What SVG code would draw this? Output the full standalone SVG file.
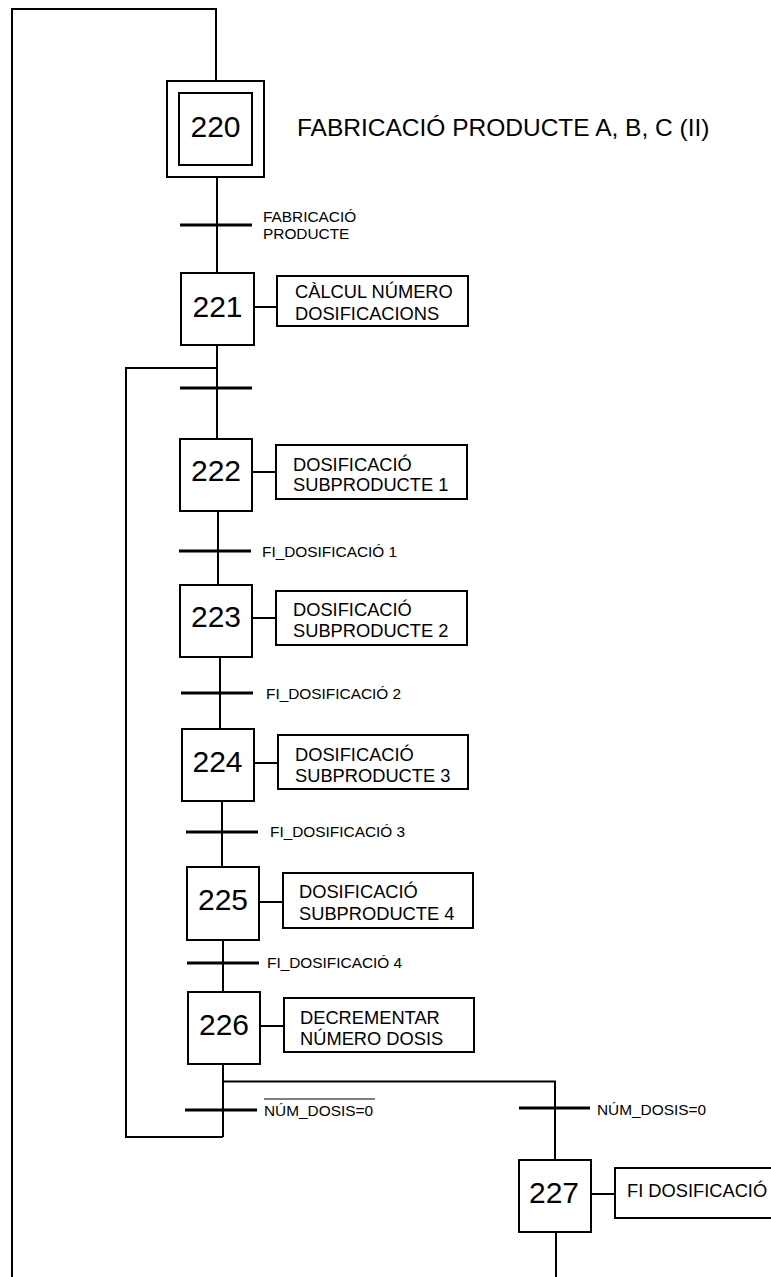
<svg xmlns="http://www.w3.org/2000/svg" width="771" height="1277" viewBox="0 0 771 1277">
<style>
.box{fill:#fff;stroke:#000;stroke-width:2}
.ln{fill:none;stroke:#000;stroke-width:2}
.tr{stroke:#000;stroke-width:3}
.num{font-family:"Liberation Sans",Arial,sans-serif;font-size:30px;text-anchor:middle;fill:#000}
.act{font-family:"Liberation Sans",Arial,sans-serif;font-size:18.3px;fill:#000}
.lbl{font-family:"Liberation Sans",Arial,sans-serif;font-size:15.4px;fill:#000}
.ttl{font-family:"Liberation Sans",Arial,sans-serif;font-size:24.5px;fill:#000}
</style>
<rect width="771" height="1277" fill="#fff"/>
<g id="connectors">
<path class="ln" d="M216,81 V9 H12 V1277"/>
<path class="ln" d="M217,177 V273"/>
<path class="ln" d="M217,345 V439"/>
<path class="ln" d="M217,368 H126 V1137 H223"/>
<path class="ln" d="M218,511 V585"/>
<path class="ln" d="M220,657 V729"/>
<path class="ln" d="M222,801 V867"/>
<path class="ln" d="M223,940 V992"/>
<path class="ln" d="M223,1064 V1137"/>
<path class="ln" d="M223,1081.5 H555 V1160"/>
<path class="ln" d="M556,1232 V1277"/>
<path class="ln" d="M254,307 H277"/>
<path class="ln" d="M252,472 H276"/>
<path class="ln" d="M252,618 H276"/>
<path class="ln" d="M254,763 H278"/>
<path class="ln" d="M259,902 H283"/>
<path class="ln" d="M260,1026 H284"/>
<path class="ln" d="M591,1194 H615"/>
<line class="tr" x1="180" y1="225" x2="252" y2="225"/>
<line class="tr" x1="180" y1="388" x2="252" y2="388"/>
<line class="tr" x1="179" y1="551" x2="251" y2="551"/>
<line class="tr" x1="181" y1="693" x2="253" y2="693"/>
<line class="tr" x1="186" y1="832" x2="258" y2="832"/>
<line class="tr" x1="187" y1="963" x2="259" y2="963"/>
<line class="tr" x1="185" y1="1110" x2="257" y2="1110"/>
<line class="tr" x1="519" y1="1108" x2="590" y2="1108"/>
<text class="lbl" x="263" y="222">FABRICACIÓ</text>
<text class="lbl" x="263" y="239">PRODUCTE</text>
<text class="lbl" x="262" y="557">FI_DOSIFICACIÓ 1</text>
<text class="lbl" x="266" y="699">FI_DOSIFICACIÓ 2</text>
<text class="lbl" x="270" y="837">FI_DOSIFICACIÓ 3</text>
<text class="lbl" x="267" y="968">FI_DOSIFICACIÓ 4</text>
<text class="lbl" x="264" y="1116">NÚM_DOSIS=0</text>
<line x1="264" y1="1099" x2="375" y2="1099" stroke="#000" stroke-width="1.2"/>
<text class="lbl" x="597" y="1115">NÚM_DOSIS=0</text>
</g>
<g id="step220">
<rect class="box" x="167" y="81" width="97" height="96"/>
<rect class="box" x="179" y="93" width="73" height="72"/>
<text class="num" x="215.5" y="137">220</text>
<text class="ttl" x="297" y="136">FABRICACIÓ PRODUCTE A, B, C (II)</text>
</g>
<g id="step221">
<rect class="box" x="181" y="273" width="73" height="72"/>
<text class="num" x="217.5" y="317">221</text>
<rect class="box" x="277" y="276" width="191" height="50"/>
<text class="act" x="295" y="298">CÀLCUL NÚMERO</text>
<text class="act" x="295" y="320">DOSIFICACIONS</text>
</g>
<g id="step222">
<rect class="box" x="180" y="439" width="72" height="72"/>
<text class="num" x="216" y="481">222</text>
<rect class="box" x="276" y="445" width="191" height="54"/>
<text class="act" x="293" y="471">DOSIFICACIÓ</text>
<text class="act" x="293" y="491">SUBPRODUCTE 1</text>
</g>
<g id="step223">
<rect class="box" x="180" y="585" width="72" height="72"/>
<text class="num" x="216" y="627">223</text>
<rect class="box" x="276" y="591" width="191" height="54"/>
<text class="act" x="293" y="616">DOSIFICACIÓ</text>
<text class="act" x="293" y="637">SUBPRODUCTE 2</text>
</g>
<g id="step224">
<rect class="box" x="182" y="729" width="72" height="72"/>
<text class="num" x="217.5" y="772">224</text>
<rect class="box" x="278" y="735" width="190" height="54"/>
<text class="act" x="295" y="761">DOSIFICACIÓ</text>
<text class="act" x="295" y="782">SUBPRODUCTE 3</text>
</g>
<g id="step225">
<rect class="box" x="187" y="867" width="72" height="73"/>
<text class="num" x="223" y="910">225</text>
<rect class="box" x="283" y="873" width="190" height="55"/>
<text class="act" x="299" y="898">DOSIFICACIÓ</text>
<text class="act" x="299" y="920">SUBPRODUCTE 4</text>
</g>
<g id="step226">
<rect class="box" x="188" y="992" width="72" height="72"/>
<text class="num" x="224" y="1035">226</text>
<rect class="box" x="284" y="998" width="190" height="54"/>
<text class="act" x="300" y="1024">DECREMENTAR</text>
<text class="act" x="300" y="1045">NÚMERO DOSIS</text>
</g>
<g id="step227">
<rect class="box" x="519" y="1160" width="72" height="72"/>
<text class="num" x="554" y="1203">227</text>
<rect class="box" x="615" y="1168" width="170" height="50"/>
<text class="act" x="627" y="1197">FI DOSIFICACIÓ</text>
</g>
</svg>
